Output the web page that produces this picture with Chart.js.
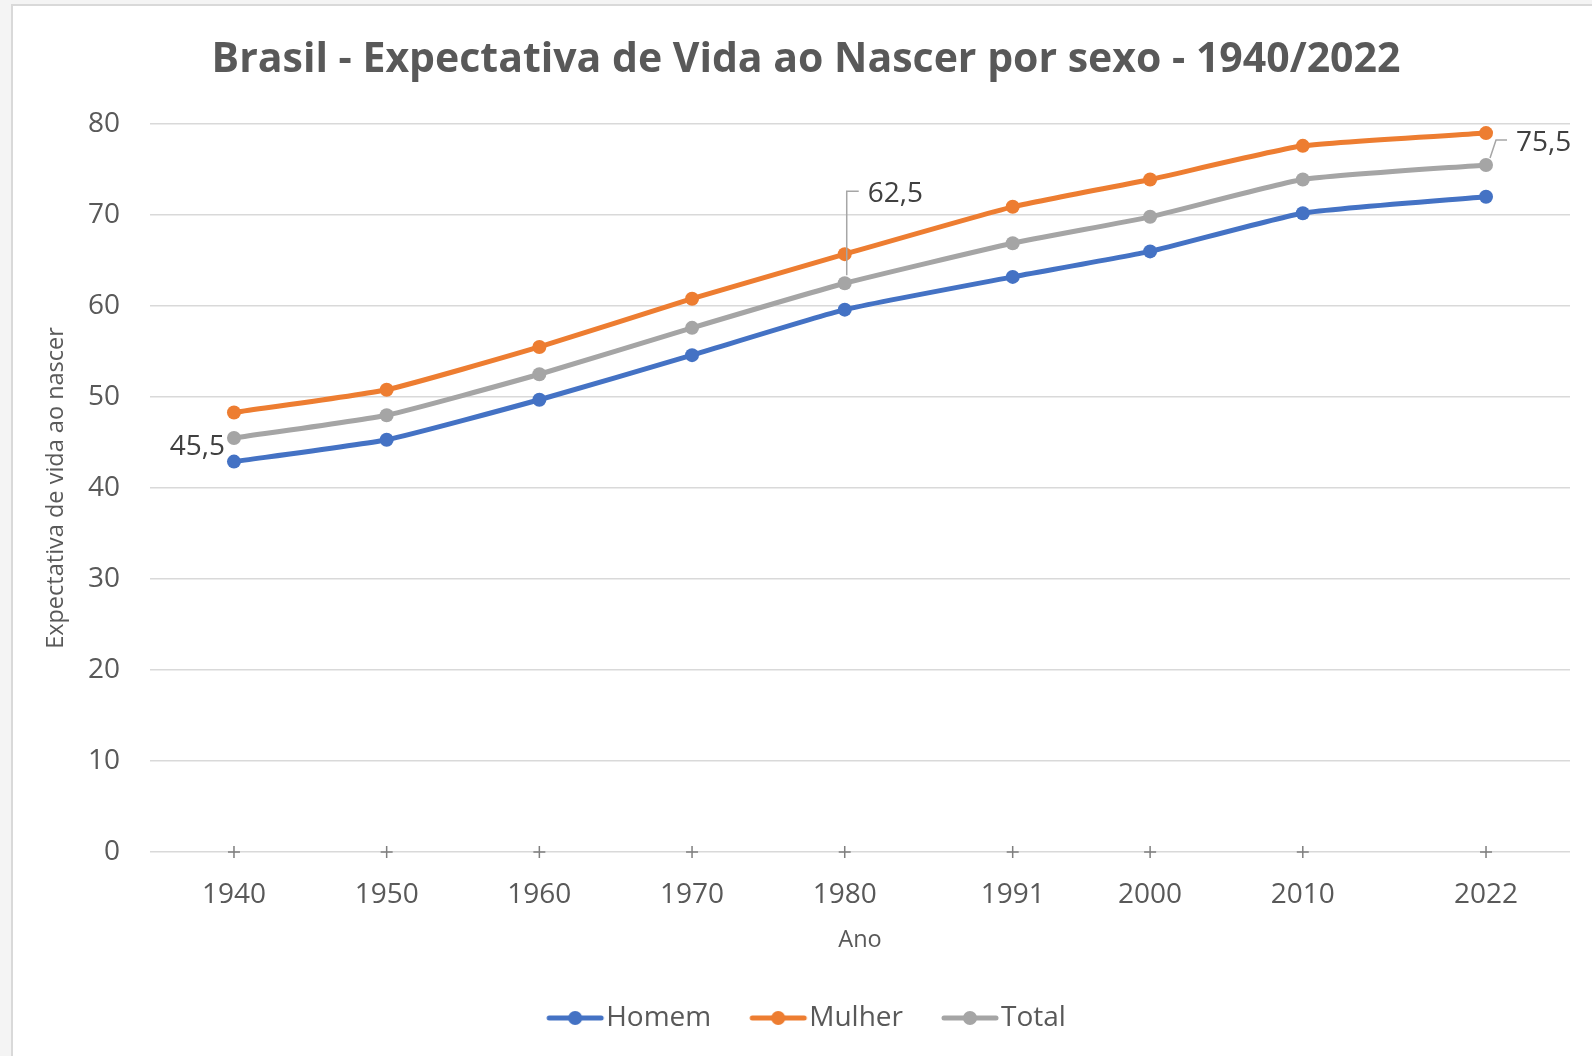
<!DOCTYPE html>
<html>
<head>
<meta charset="utf-8">
<script src="https://cdn.jsdelivr.net/npm/chart.js@4.4.0/dist/chart.umd.min.js"></script>
<style>
  html, body { margin: 0; padding: 0; background: #f4f4f4; }
  #wrap { position: relative; width: 1592px; height: 1056px; overflow: hidden; }
  #frame { position: absolute; left: 11px; top: 4px; width: 1620px; height: 1100px;
           background: #fff; border-left: 2px solid #d9d9d9; border-top: 2px solid #d9d9d9; }
  canvas { position: absolute; left: 0; top: 0; }
</style>
</head>
<body>
<div id="wrap">
  <div id="frame"></div>
  <canvas id="grafico" width="1592" height="1056"></canvas>
</div>
<script>
// dados (IBGE)
const anos   = [1940, 1950, 1960, 1970, 1980, 1991, 2000, 2010, 2022];
const homem  = [42.9, 45.3, 49.7, 54.6, 59.6, 63.2, 66.0, 70.2, 72.0];
const mulher = [48.3, 50.8, 55.5, 60.8, 65.7, 70.9, 73.9, 77.6, 79.0];
const total  = [45.5, 48.0, 52.5, 57.6, 62.5, 66.9, 69.8, 73.9, 75.5];
const yTicks = [0, 10, 20, 30, 40, 50, 60, 70, 80];
const rotulados = [0, 4, 8]; // pontos do "Total" com rótulo

const CORES = { homem: "#4472c4", mulher: "#ed7d31", total: "#a5a5a5" };
const TXT = "#595959";
const FONTE = "'Open Sans', 'DejaVu Sans', sans-serif";

// ícone da legenda: linha com bolinha no meio
// (canvas centrado em x=23 da caixa; o desenho começa no início da caixa)
function iconeLegenda(cor) {
    const c = document.createElement("canvas");
    c.width = 92; c.height = 16;
    const g = c.getContext("2d");
    g.strokeStyle = cor; g.lineWidth = 5; g.lineCap = "round";
    g.beginPath(); g.moveTo(26, 8); g.lineTo(78, 8); g.stroke();
    g.fillStyle = cor;
    g.beginPath(); g.arc(52, 8, 7, 0, Math.PI * 2); g.fill();
    return c;
}
const icones = [iconeLegenda(CORES.homem), iconeLegenda(CORES.mulher), iconeLegenda(CORES.total)];

function serie(label, valores, cor) {
    return {
        label,
        data: anos.map((a, i) => ({ x: a, y: valores[i] })),
        borderColor: cor,
        backgroundColor: cor,
        borderWidth: 5,
        pointRadius: 7,
        pointHoverRadius: 7,
        pointBorderWidth: 0,
        tension: 0.15,
        clip: false
    };
}

// "+" nas marcas do eixo X
const marcasX = {
    id: "marcasX",
    afterDraw(chart) {
        const x = chart.scales.x, y = chart.scales.y;
        const y0 = y.getPixelForValue(0);
        const ctx = chart.ctx;
        ctx.save();
        ctx.strokeStyle = "#7f7f7f";
        ctx.lineWidth = 1.5;
        x.ticks.forEach(t => {
            const px = x.getPixelForValue(t.value);
            ctx.beginPath();
            ctx.moveTo(px, y0 - 6);
            ctx.lineTo(px, y0 + 6);
            ctx.moveTo(px - 6, y0);
            ctx.lineTo(px + 6, y0);
            ctx.stroke();
        });
        ctx.restore();
    }
};

// rótulos de dados com linha de chamada
const rotulos = {
    id: "rotulos",
    afterDatasetsDraw(chart) {
        const meta = chart.getDatasetMeta(2);
        const ctx = chart.ctx;
        ctx.save();
        ctx.font = "28px " + FONTE;
        ctx.fillStyle = "#404040";
        ctx.textBaseline = "middle";
        ctx.strokeStyle = "#a6a6a6";
        ctx.lineWidth = 1.5;
        rotulados.forEach(i => {
            const p = meta.data[i];
            const txt = total[i].toLocaleString("pt-BR", { minimumFractionDigits: 1 });
            if (i === 0) {
                ctx.textAlign = "right";
                ctx.fillText(txt, p.x - 9, p.y + 9);
            } else if (i === 4) {
                ctx.beginPath();
                ctx.moveTo(p.x + 2, p.y - 8);
                ctx.lineTo(p.x + 2, p.y - 92);
                ctx.lineTo(p.x + 14, p.y - 92);
                ctx.stroke();
                ctx.textAlign = "left";
                ctx.fillText(txt, p.x + 23, p.y - 89);
            } else {
                ctx.beginPath();
                ctx.moveTo(p.x + 4, p.y - 7);
                ctx.lineTo(p.x + 10, p.y - 25);
                ctx.lineTo(p.x + 21, p.y - 25);
                ctx.stroke();
                ctx.textAlign = "left";
                ctx.fillText(txt, p.x + 30, p.y - 22);
            }
        });
        ctx.restore();
    }
};

new Chart(document.getElementById("grafico"), {
    type: "line",
    data: {
        datasets: [
            serie("Homem", homem, CORES.homem),
            serie("Mulher", mulher, CORES.mulher),
            serie("Total", total, CORES.total)
        ]
    },
    options: {
        responsive: false,
        animation: false,
        devicePixelRatio: 1,
        layout: { padding: { left: 42, right: 22, top: 0, bottom: 14 } },
        plugins: {
            tooltip: { enabled: false },
            title: {
                display: true,
                text: "Brasil - Expectativa de Vida ao Nascer por sexo - 1940/2022",
                color: TXT,
                font: { family: FONTE, size: 41, weight: "bold" },
                padding: { top: 35.4, bottom: 39.4 }
            },
            legend: {
                position: "bottom",
                labels: {
                    color: TXT,
                    font: { family: FONTE, size: 28 },
                    usePointStyle: true,
                    pointStyleWidth: 46,
                    padding: 38,
                    generateLabels(chart) {
                        const itens = Chart.defaults.plugins.legend.labels.generateLabels(chart);
                        itens.forEach((it, i) => { it.pointStyle = icones[i]; it.fontColor = TXT; });
                        return itens;
                    }
                }
            }
        },
        scales: {
            x: {
                type: "linear",
                min: 1934.5,
                max: 2027.5,
                afterBuildTicks: axis => { axis.ticks = anos.map(v => ({ value: v })); },
                afterFit: axis => { axis.height = 114; },
                ticks: {
                    color: TXT,
                    font: { family: FONTE, size: 28 },
                    padding: 26,
                    autoSkip: false,
                    maxRotation: 0,
                    callback: v => String(v)
                },
                grid: { display: false, drawTicks: false },
                border: { display: false },
                title: {
                    display: true,
                    text: "Ano",
                    color: TXT,
                    font: { family: FONTE, size: 23.5 },
                    padding: { top: 0, bottom: 11.5 }
                }
            },
            y: {
                min: 0,
                max: 80,
                afterBuildTicks: axis => { axis.ticks = yTicks.map(v => ({ value: v })); },
                afterFit: axis => { axis.width = 108; },
                ticks: {
                    color: TXT,
                    font: { family: FONTE, size: 28 },
                    padding: 30
                },
                grid: { color: "#d9d9d9", lineWidth: 1.5, drawTicks: false },
                border: { display: false },
                title: {
                    display: true,
                    text: "Expectativa de vida ao nascer",
                    color: TXT,
                    font: { family: FONTE, size: 23.5 },
                    padding: 0
                }
            }
        }
    },
    plugins: [marcasX, rotulos]
});
</script>
</body>
</html>
